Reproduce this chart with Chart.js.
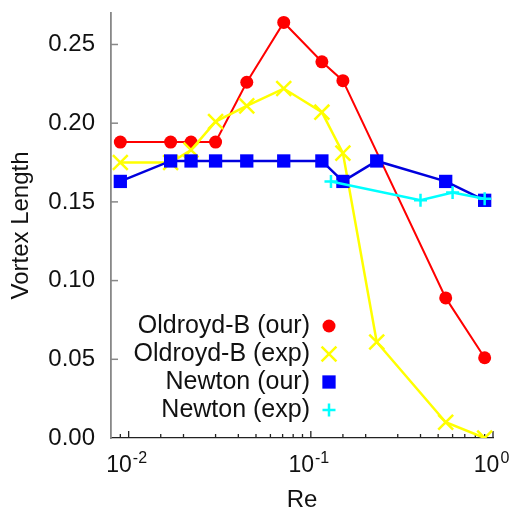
<!DOCTYPE html>
<html>
<head>
<meta charset="utf-8">
<script src="https://cdn.jsdelivr.net/npm/chart.js@4/dist/chart.umd.min.js"></script>
<style>
  html, body { margin: 0; padding: 0; background: #fff; }
</style>
</head>
<body>
<canvas id="vortexChart" width="515" height="512"></canvas>
<script>
// Reynolds number (x) and vortex length (y)
const oldroydOurRe  = [0.009, 0.017, 0.022, 0.030, 0.0445, 0.071, 0.115, 0.15, 0.55, 0.9];
const oldroydOurLen = [0.188, 0.188, 0.188, 0.188, 0.226, 0.264, 0.239, 0.227, 0.089, 0.051];

const oldroydExpRe  = [0.009, 0.017, 0.022, 0.030, 0.0445, 0.071, 0.115, 0.15, 0.23, 0.55, 0.9];
const oldroydExpLen = [0.175, 0.175, 0.183, 0.201, 0.211, 0.222, 0.207, 0.181, 0.061, 0.010, 0.0];

const newtonOurRe  = [0.009, 0.017, 0.022, 0.030, 0.0445, 0.071, 0.115, 0.15, 0.23, 0.55, 0.9];
const newtonOurLen = [0.163, 0.176, 0.176, 0.176, 0.176, 0.176, 0.176, 0.163, 0.176, 0.163, 0.151];

const newtonExpRe  = [0.129, 0.40, 0.60, 0.9];
const newtonExpLen = [0.163, 0.151, 0.156, 0.152];

const seriesLabels = ["Oldroyd-B (our)", "Oldroyd-B (exp)", "Newton (our)", "Newton (exp)"];
const xTickExponents = [-2, -1, 0];
const xTickExpText = ["-2", "-1", "0"];
const yStep = 0.05;

const FONT = '"Liberation Sans", Arial, Helvetica, sans-serif';
const X_TICK_FONT = "23px " + FONT;
const X_EXP_FONT = "16px " + FONT;

function toPoints(xs, ys) {
    return xs.map((x, i) => ({ x: x, y: ys[i] }));
}

function decadeIndex(value) {
    const lg = Math.log10(value);
    if (Math.abs(lg - Math.round(lg)) > 1e-6) return -1;
    return xTickExponents.indexOf(Math.round(lg));
}

function noScalePadding(s) {
    s.paddingTop = 0;
    s.paddingBottom = 0;
    s.paddingLeft = 0;
    s.paddingRight = 0;
}

// ticks drawn on the inside of the axes, like the gnuplot original
const inwardTicks = {
    id: "inwardTicks",
    beforeDatasetsDraw(chart) {
        const { ctx, chartArea, scales: { x, y } } = chart;
        ctx.save();
        ctx.strokeStyle = "#222";
        ctx.lineWidth = 1.3;
        x.ticks.forEach(t => {
            const px = x.getPixelForValue(t.value);
            if (px < chartArea.left + 2 || px > chartArea.right + 1) return;
            const lg = Math.log10(t.value);
            const major = Math.abs(lg - Math.round(lg)) < 1e-6;
            ctx.beginPath();
            ctx.moveTo(px, chartArea.bottom);
            ctx.lineTo(px, chartArea.bottom - (major ? 7 : 4));
            ctx.stroke();
        });
        ctx.strokeStyle = "#888";
        ctx.lineWidth = 1.5;
        y.ticks.forEach(t => {
            const py = y.getPixelForValue(t.value);
            if (py > chartArea.bottom - 2) return;
            ctx.beginPath();
            ctx.moveTo(chartArea.left, py);
            ctx.lineTo(chartArea.left + 7, py);
            ctx.stroke();
        });
        ctx.restore();
    },
    // exponents of the 10^k labels (the base "10" comes from the axis)
    afterDraw(chart) {
        const { ctx, chartArea, scales: { x } } = chart;
        ctx.save();
        ctx.fillStyle = "#111";
        ctx.textBaseline = "alphabetic";
        ctx.textAlign = "left";
        x.ticks.forEach(t => {
            const k = decadeIndex(t.value);
            if (k < 0) return;
            const px = x.getPixelForValue(t.value);
            ctx.font = X_TICK_FONT;
            const full = ctx.measureText(t.label).width;
            const base = ctx.measureText("10").width;
            ctx.font = X_EXP_FONT;
            ctx.fillText(xTickExpText[k], px - full / 2 + base + 1, chartArea.bottom + 24.5);
        });
        ctx.restore();
    }
};

// key inside the plot: right aligned text, symbol on the right
const innerKey = {
    id: "innerKey",
    afterDatasetsDraw(chart) {
        const { ctx, chartArea } = chart;
        const textRight = chartArea.left + 199;
        const markX = textRight + 19;
        let rowY = chartArea.top + 313;
        ctx.save();
        chart.data.datasets.forEach(ds => {
            ctx.font = "25px " + FONT;
            ctx.textAlign = "right";
            ctx.textBaseline = "middle";
            ctx.fillStyle = "#111";
            ctx.fillText(ds.label, textRight, rowY);
            ctx.fillStyle = ds.pointBackgroundColor;
            ctx.strokeStyle = ds.pointBorderColor;
            ctx.lineWidth = ds.pointBorderWidth;
            Chart.helpers.drawPoint(ctx, {
                pointStyle: ds.pointStyle,
                radius: ds.pointRadius,
                rotation: 0,
                borderWidth: ds.pointBorderWidth
            }, markX, rowY);
            rowY += 28;
        });
        ctx.restore();
    }
};

new Chart(document.getElementById("vortexChart"), {
    type: "line",
    data: {
        datasets: [{
            label: seriesLabels[0],
            data: toPoints(oldroydOurRe, oldroydOurLen),
            borderColor: "#ff0000",
            borderWidth: 2,
            pointStyle: "circle",
            pointRadius: 6.5,
            pointBackgroundColor: "#ff0000",
            pointBorderColor: "#ff0000",
            pointBorderWidth: 0,
            order: 4
        }, {
            label: seriesLabels[1],
            data: toPoints(oldroydExpRe, oldroydExpLen),
            borderColor: "#ffff00",
            borderWidth: 2.5,
            pointStyle: "crossRot",
            pointRadius: 10.5,
            pointBackgroundColor: "#ffff00",
            pointBorderColor: "#ffff00",
            pointBorderWidth: 2.5,
            order: 3
        }, {
            label: seriesLabels[2],
            data: toPoints(newtonOurRe, newtonOurLen),
            borderColor: "#0000dd",
            borderWidth: 2.5,
            pointStyle: "rect",
            pointRadius: 9.4,
            pointBackgroundColor: "#0000ff",
            pointBorderColor: "#0000ff",
            pointBorderWidth: 0,
            order: 2
        }, {
            label: seriesLabels[3],
            data: toPoints(newtonExpRe, newtonExpLen),
            borderColor: "#00ffff",
            borderWidth: 2.5,
            pointStyle: "cross",
            pointRadius: 6.5,
            pointBackgroundColor: "#00ffff",
            pointBorderColor: "#00ffff",
            pointBorderWidth: 2.5,
            order: 1
        }]
    },
    options: {
        responsive: false,
        animation: false,
        devicePixelRatio: 1,
        layout: {
            padding: { top: 13, right: 22, left: 0, bottom: 0 }
        },
        plugins: {
            legend: { display: false },
            tooltip: { enabled: false }
        },
        elements: {
            line: { tension: 0, fill: false }
        },
        scales: {
            x: {
                type: "logarithmic",
                min: 0.008,
                max: 1,
                afterFit: s => { noScalePadding(s); s.height = 74; },
                grid: { display: false, drawTicks: false },
                border: { display: true, color: "#222", width: 1.3 },
                ticks: {
                    autoSkip: false,
                    maxRotation: 0,
                    padding: 14,
                    color: "#111",
                    font: { family: FONT, size: 23 },
                    callback: function (value) {
                        const k = decadeIndex(value);
                        if (k < 0) return "";
                        // room after "10" for the raised exponent
                        return "10" + " ".repeat(xTickExpText[k].length + 1);
                    }
                },
                title: {
                    display: true,
                    text: "Re",
                    color: "#111",
                    font: { family: FONT, size: 24 },
                    padding: { top: 0, bottom: -3 }
                }
            },
            y: {
                min: 0,
                max: 0.27,
                afterFit: s => { noScalePadding(s); s.width = 111; },
                grid: { display: false, drawTicks: false },
                border: { display: true, color: "#888", width: 1.8 },
                ticks: {
                    stepSize: yStep,
                    includeBounds: false,
                    padding: 16,
                    color: "#111",
                    font: { family: FONT, size: 24 },
                    callback: value => Number(value).toFixed(2)
                },
                title: {
                    display: true,
                    text: "Vortex Length",
                    color: "#111",
                    font: { family: FONT, size: 24 },
                    padding: { top: 7, bottom: 0 }
                }
            }
        }
    },
    plugins: [inwardTicks, innerKey]
});
</script>
</body>
</html>
